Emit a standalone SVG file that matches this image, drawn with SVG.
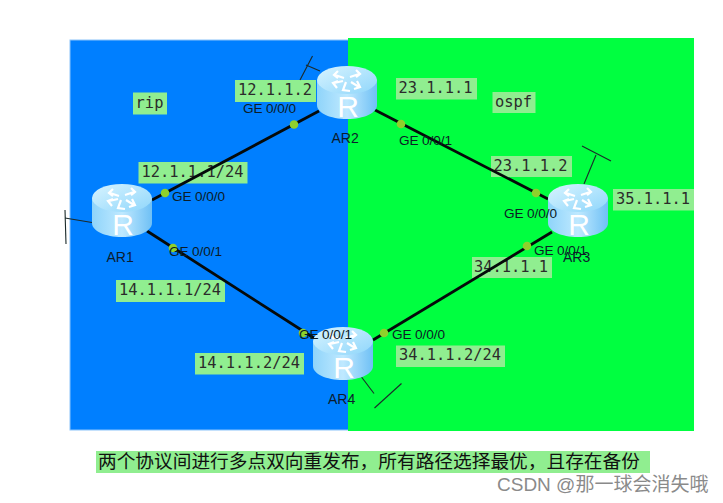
<svg xmlns="http://www.w3.org/2000/svg" width="723" height="503" viewBox="0 0 723 503">
<style>
.lb{fill:#90ee90}
.ip{font-family:"DejaVu Sans Mono","Liberation Mono",monospace;font-size:15.4px;fill:#2b2b2b;text-anchor:middle}
.ge{font-family:"Liberation Sans",Arial,sans-serif;font-size:13.6px;fill:#0c1c26;letter-spacing:-.1px}
.ar{font-family:"Liberation Sans",Arial,sans-serif;font-size:14px;fill:#0c1c2e}
.link{stroke:#050a0a;stroke-width:2.8;fill:none}
.dot{fill:#8fd02c}
.thin{stroke:#1b2a2a;stroke-width:1.1;fill:none}
.rl{font-family:"Liberation Sans",Arial,sans-serif;font-size:30px;fill:#fff;text-anchor:middle}
</style>
<defs>
<linearGradient id="body" x1="0" x2="1" y1="0" y2="0">
<stop offset="0" stop-color="#8fd4fa"/><stop offset=".5" stop-color="#bfe9ff"/><stop offset="1" stop-color="#6fc0f5"/>
</linearGradient>
<linearGradient id="top" x1="0" x2="1" y1="0" y2="1">
<stop offset="0" stop-color="#d8f4ff"/><stop offset="1" stop-color="#8fd6fb"/>
</linearGradient>
<g id="router">
<path d="M0 14V39C0 47 13 53 30 53S60 47 60 39V14Z" fill="url(#body)"/>
<ellipse cx="30" cy="14" rx="30" ry="14" fill="url(#top)"/>
<g fill="none" stroke="#fff" stroke-width="2.2">
<path d="M18 9l9 3M21 5l-4 4 4 3"/>
<path d="M42 8l-9 3M39 4l4 4-4 3"/>
<path d="M17 17l9-2M20 22l-4-5 5-2"/>
<path d="M34 16l8 5M40 15l3 6-6 2"/>
<path d="M29 16l-3 8 7 1"/>
</g>
</g>
</defs>
<rect x="70" y="40" width="279" height="390" fill="#007fff" stroke="#8cc4fa" stroke-width="1"/>
<rect x="348" y="38" width="346" height="393" fill="#00ff40"/>
<g id="labels">
<g><rect class="lb" x="133" y="92.5" width="34" height="22"/><text class="ip" x="149.5" y="107.5">rip</text></g>
<g><rect class="lb" x="492.5" y="92" width="43" height="21"/><text class="ip" x="513.5" y="106.5">ospf</text></g>
<g><rect class="lb" x="235" y="80" width="81" height="22"/><text class="ip" x="275" y="95">12.1.1.2</text></g>
<g><rect class="lb" x="138.5" y="162" width="109" height="21.5"/><text class="ip" x="192.5" y="177">12.1.1.1/24</text></g>
<g><rect class="lb" x="396" y="78" width="81" height="21.5"/><text class="ip" x="435.5" y="92.5">23.1.1.1</text></g>
<g><rect class="lb" x="491" y="156" width="81" height="21"/><text class="ip" x="530.5" y="170.5">23.1.1.2</text></g>
<g><rect class="lb" x="613" y="189" width="81" height="21.5"/><text class="ip" x="653" y="204">35.1.1.1</text></g>
<g><rect class="lb" x="472" y="257" width="80" height="21"/><text class="ip" x="511" y="271.5">34.1.1.1</text></g>
<g><rect class="lb" x="116" y="280" width="109" height="22"/><text class="ip" x="170" y="295">14.1.1.1/24</text></g>
<g><rect class="lb" x="195" y="353" width="109" height="21.5"/><text class="ip" x="249" y="368">14.1.1.2/24</text></g>
<g><rect class="lb" x="396" y="345.5" width="109" height="21.5"/><text class="ip" x="450" y="360">34.1.1.2/24</text></g>
</g>
<g id="connectors">
<line class="link" x1="152" y1="200" x2="319" y2="111"/>
<line class="link" x1="375" y1="110" x2="548" y2="199"/>
<line class="link" x1="147" y1="231" x2="314" y2="338"/>
<line class="link" x1="552" y1="232" x2="373" y2="340"/>
<line class="thin" x1="92" y1="222.5" x2="65" y2="218"/>
<line class="thin" x1="65" y1="210" x2="66" y2="244"/>
<line class="thin" x1="320" y1="71" x2="306" y2="65"/>
<line class="thin" x1="312.5" y1="56" x2="300" y2="80"/>
<line class="thin" x1="584" y1="184" x2="596" y2="155"/>
<line class="thin" x1="582" y1="146" x2="611" y2="161"/>
<line class="thin" x1="361.5" y1="377" x2="374" y2="393.5"/>
<line class="thin" x1="374.5" y1="408" x2="401.5" y2="383.5"/>
<circle class="dot" cx="165" cy="193" r="4.3"/>
<circle class="dot" cx="294" cy="124.5" r="4.3"/>
<circle class="dot" cx="173" cy="248" r="4.3"/>
<circle class="dot" cx="401" cy="124" r="4.3"/>
<circle class="dot" cx="536" cy="193" r="4.3"/>
<circle class="dot" cx="527" cy="246" r="4.3"/>
<circle class="dot" cx="303" cy="333" r="4.3"/>
<circle class="dot" cx="384" cy="333" r="4.3"/>
</g>
<g id="AR1"><use href="#router" x="92" y="184"/><text class="rl" x="123" y="235">R</text><text class="ar" x="106.5" y="261.5">AR1</text></g>
<g id="AR2"><use href="#router" x="317" y="66"/><text class="rl" x="348" y="117">R</text><text class="ar" x="331.5" y="143">AR2</text></g>
<g id="AR3"><use href="#router" x="548" y="184"/><text class="rl" x="579" y="235">R</text><text class="ar" x="563" y="261.5">AR3</text></g>
<g id="AR4"><use href="#router" x="313" y="327"/><text class="rl" x="344" y="378">R</text><text class="ar" x="328" y="404">AR4</text></g>
<g id="ports">
<text class="ge" x="172" y="200.5">GE 0/0/0</text>
<text class="ge" x="169" y="256">GE 0/0/1</text>
<text class="ge" x="243" y="113">GE 0/0/0</text>
<text class="ge" x="399" y="145">GE 0/0/1</text>
<text class="ge" x="504" y="218">GE 0/0/0</text>
<text class="ge" x="534" y="254.5">GE 0/0/1</text>
<text class="ge" x="299" y="339">GE 0/0/1</text>
<text class="ge" x="392" y="339">GE 0/0/0</text>
</g>
<g id="caption">
<rect class="lb" x="96" y="451" width="554" height="22"/>
<text x="98" y="467.5" font-family="'Noto Sans CJK SC','Noto Sans',sans-serif" font-size="18.7" fill="#111">两个协议间进行多点双向重发布，所有路径选择最优，且存在备份</text>
</g>
<text x="497" y="491" font-family="'Liberation Sans','Noto Sans CJK SC',sans-serif" font-size="19" fill="#8a8a8a">CSDN @那一球会消失哦</text>
</svg>
